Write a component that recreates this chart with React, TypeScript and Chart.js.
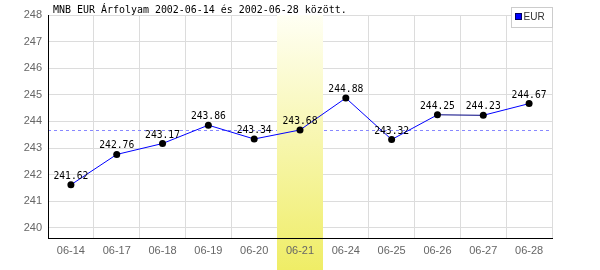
import React, { useEffect, useRef } from "react";
import { Chart, registerables } from "chart.js";

Chart.register(...registerables);

const categories = ["06-14", "06-17", "06-18", "06-19", "06-20", "06-21", "06-24", "06-25", "06-26", "06-27", "06-28"];
const eurValues = [241.62, 242.76, 243.17, 243.86, 243.34, 243.68, 244.88, 243.32, 244.25, 244.23, 244.67];
const yTicks = [240, 241, 242, 243, 244, 245, 246, 247, 248];
const highlightCategory = "06-21";
const averageValue = 243.69;
const titleText = "MNB EUR Árfolyam 2002-06-14 és 2002-06-28 között.";
const seriesName = "EUR";

const MONO = '11px "DejaVu Sans Mono"';

function scaledText(ctx: CanvasRenderingContext2D, text: string, x: number, y: number, align: CanvasTextAlign, sx: number) {
  ctx.save();
  ctx.translate(x, y);
  ctx.scale(sx, 1);
  ctx.textAlign = align;
  ctx.textBaseline = "alphabetic";
  ctx.fillText(text, 0, 0);
  ctx.restore();
}

const decorPlugin = {
  id: "decor",
  beforeDatasetsDraw(chart: any) {
    const { ctx, chartArea, scales } = chart;
    const x = scales.x;
    const y = scales.y;
    const ay = Math.round(y.getPixelForValue(averageValue)) + 0.5;
    ctx.save();
    ctx.strokeStyle = "#8888ff";
    ctx.lineWidth = 1;
    ctx.setLineDash([3, 3]);
    ctx.beginPath();
    ctx.moveTo(chartArea.left, ay);
    ctx.lineTo(chartArea.right, ay);
    ctx.stroke();
    ctx.restore();
    const idx = categories.indexOf(highlightCategory);
    const cx = x.getPixelForValue(idx);
    const half = (chartArea.right - chartArea.left) / categories.length / 2;
    const top = chartArea.top;
    const bottom = chart.height;
    const g = ctx.createLinearGradient(0, top, 0, bottom);
    g.addColorStop(0, "#fffff4");
    g.addColorStop(1, "#efed66");
    ctx.save();
    ctx.fillStyle = g;
    ctx.fillRect(Math.round(cx - half), top, Math.round(2 * half), bottom - top);
    ctx.restore();
  },
  afterDatasetsDraw(chart: any) {
    const { ctx } = chart;
    const meta = chart.getDatasetMeta(0);
    ctx.save();
    ctx.fillStyle = "#000";
    ctx.font = MONO;
    meta.data.forEach((pt: any, i: number) => {
      scaledText(ctx, eurValues[i].toFixed(2), pt.x, pt.y - 6, "center", 0.88);
    });
    ctx.restore();
  },
  afterDraw(chart: any) {
    const { ctx } = chart;
    ctx.save();
    ctx.fillStyle = "#000";
    ctx.font = MONO;
    scaledText(ctx, titleText, 53, 13, "left", 0.905);
    ctx.fillStyle = "#fff";
    ctx.fillRect(511, 7, 41, 20);
    ctx.strokeStyle = "#cccccc";
    ctx.lineWidth = 1;
    ctx.strokeRect(511.5, 7.5, 41, 20);
    ctx.fillStyle = "#0000ff";
    ctx.fillRect(516, 14, 6, 6);
    ctx.strokeStyle = "#000060";
    ctx.strokeRect(515.5, 13.5, 6, 6);
    ctx.fillStyle = "#333";
    ctx.font = '10px "Liberation Sans"';
    ctx.textBaseline = "middle";
    ctx.textAlign = "left";
    ctx.fillText(seriesName, 523.5, 17.5);
    ctx.restore();
  },
};

export default function App() {
  const ref = useRef<HTMLCanvasElement>(null);
  useEffect(() => {
    if (!ref.current) return;
    const chart = new Chart(ref.current, {
      type: "line",
      data: {
        labels: categories,
        datasets: [
          {
            label: seriesName,
            data: eurValues,
            borderColor: "#0000ff",
            borderWidth: 1,
            pointRadius: 3.5,
            pointBackgroundColor: "#000",
            pointBorderColor: "#000",
            pointBorderWidth: 0,
            tension: 0,
            segment: {
              borderColor: (c: any) => (Math.abs(c.p1.parsed.y - c.p0.parsed.y) < 0.05 ? "#000080" : "#0000ff"),
            },
          },
        ],
      },
      plugins: [decorPlugin],
      options: {
        responsive: false,
        animation: false,
        devicePixelRatio: 1,
        layout: { padding: { top: 15, right: 48, bottom: 0, left: 0 } },
        plugins: { legend: { display: false }, title: { display: false }, tooltip: { enabled: false } },
        scales: {
          x: {
            type: "category",
            offset: true,
            grid: { offset: true, color: "#dcdcdc", drawTicks: false, lineWidth: 1 },
            border: { color: "#000", width: 1, z: 1 },
            ticks: { color: "#666", font: { family: "Liberation Sans", size: 11 }, padding: 6, maxRotation: 0, autoSkip: false, z: 1 },
            afterFit: (s: any) => { s.height = 32; },
          },
          y: {
            min: 239.62,
            max: 248,
            grid: { color: "#dcdcdc", drawTicks: false },
            border: { color: "#000", width: 1, z: 1 },
            ticks: { color: "#666", font: { family: "Liberation Sans", size: 11 }, padding: 6 },
            afterBuildTicks: (s: any) => { s.ticks = yTicks.map((v) => ({ value: v })); },
            afterFit: (s: any) => { s.width = 48; },
          },
        },
      },
    });
    return () => chart.destroy();
  }, []);
  return (
    <div style={{ position: "absolute", left: 0, top: 0, width: 600, height: 270, background: "#fff" }}>
      <canvas ref={ref} width={600} height={270} style={{ display: "block", width: 600, height: 270 }} />
    </div>
  );
}
